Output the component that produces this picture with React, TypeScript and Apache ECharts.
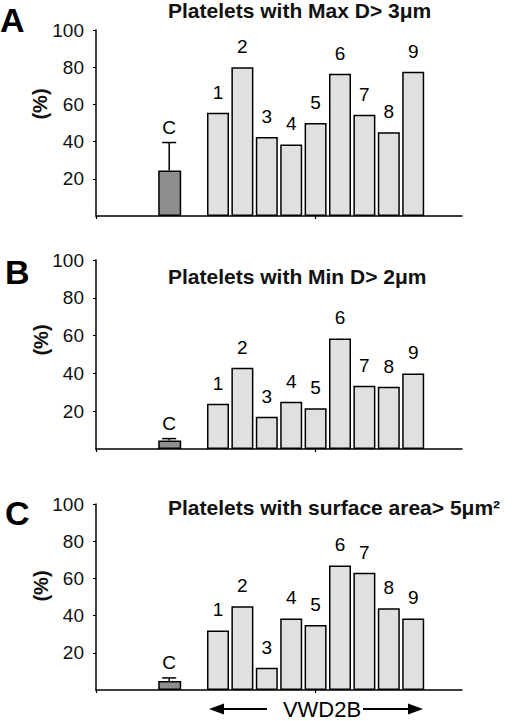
import React, { useEffect, useRef } from "react";
import * as echarts from "echarts";

// Slots along the x axis (category points); only "C" and "1".."9" carry bars
const xSlots = ["s0", "s1", "s2", "C", "s4", "1", "2", "3", "4", "5", "6", "7", "8", "9", "s14", "s15"];
const patients = ["1", "2", "3", "4", "5", "6", "7", "8", "9"];
const controlName = "C";

const titles = [
  "Platelets with Max D> 3\u03bcm",
  "Platelets with Min D> 2\u03bcm",
  "Platelets with surface area> 5\u03bcm\u00b2",
];
const panelLetters = ["A", "B", "C"];

const vwdA = [55.5, 80, 42.5, 38.5, 50, 76.5, 54.5, 45, 77.5];
const vwdB = [24, 43, 17, 25, 21.5, 58.5, 33.5, 33, 40];
const vwdC = [32, 45, 12, 38.5, 35, 67, 63, 44, 38.5];
const controlValues = [24.5, 4.5, 4.8];
const controlErrTop = [39.5, 5.5, 6.5];
const vwdSets = [vwdA, vwdB, vwdC];

const yTicks = [0, 20, 40, 60, 80, 100];
const groupLabel = "VWD2B";
const yName = "(%)";

const FONT = "'Liberation Sans', Arial, sans-serif";

// layout (pixels)
const grids = [
  { left: 96, top: 30, width: 366, height: 186 },
  { left: 96, top: 260, width: 366, height: 189 },
  { left: 96, top: 504, width: 366, height: 186 },
];
const titleTops = [0, 266, 497];
const letterPos = [
  { x: 0, y: 3 },
  { x: 5, y: 255 },
  { x: 5, y: 496 },
];
const yNamePos = [
  { x: 40, y: 104 },
  { x: 41, y: 340 },
  { x: 41, y: 586 },
];

export default function App() {
  const ref = useRef<HTMLDivElement>(null);

  useEffect(() => {
    if (!ref.current) return;
    const chart = echarts.init(ref.current, null, { renderer: "svg" });

    const xAxis: any[] = [];
    const yAxis: any[] = [];
    const series: any[] = [];

    grids.forEach((g, i) => {
      xAxis.push({
        type: "category",
        gridIndex: i,
        data: xSlots,
        boundaryGap: false,
        axisLine: { lineStyle: { color: "#000", width: 1.5 } },
        axisTick: {
          show: true,
          length: 3,
          interval: (idx: number) => idx === 0 || idx === 9,
          lineStyle: { color: "#000", width: 1.2 },
        },
        axisLabel: { show: false },
        splitLine: { show: false },
      });
      yAxis.push({
        type: "value",
        gridIndex: i,
        min: yTicks[0],
        max: yTicks[yTicks.length - 1],
        interval: 20,
        axisLine: { show: true, lineStyle: { color: "#000", width: 1.5 } },
        axisTick: { show: true, length: 3, lineStyle: { color: "#000", width: 1 } },
        axisLabel: {
          showMinLabel: false,
          margin: 12,
          fontSize: 19,
          fontFamily: FONT,
          color: "#111",
        },
        splitLine: { show: false },
      });

      const vals = vwdSets[i];
      series.push({
        type: "bar",
        xAxisIndex: i,
        yAxisIndex: i,
        barWidth: 23,
        barGap: "-100%",
        data: xSlots.map((s) => (s === controlName ? controlValues[i] : "-")),
        itemStyle: { color: "#8e8e8e", borderColor: "#000", borderWidth: 1.5 },
        z: 2,
      });
      series.push({
        type: "bar",
        xAxisIndex: i,
        yAxisIndex: i,
        barWidth: 22,
        barGap: "-100%",
        data: xSlots.map((s) => {
          const k = patients.indexOf(s);
          return k >= 0 ? vals[k] : "-";
        }),
        itemStyle: { color: "#e0e0e0", borderColor: "#000", borderWidth: 1.5 },
        label: {
          show: true,
          position: "top",
          distance: 11,
          formatter: (p: any) => p.name,
          fontSize: 19,
          fontFamily: FONT,
          color: "#000",
        },
        z: 2,
      });
      series.push({
        type: "custom",
        xAxisIndex: i,
        yAxisIndex: i,
        data: [[xSlots.indexOf(controlName), controlValues[i], controlErrTop[i]]],
        encode: { x: 0, y: [1, 2] },
        z: 3,
        renderItem: (_p: any, api: any) => {
          const x = api.value(0);
          const base = api.coord([x, api.value(1)]);
          const top = api.coord([x, api.value(2)]);
          return {
            type: "group",
            children: [
              {
                type: "line",
                shape: { x1: base[0], y1: base[1], x2: top[0], y2: top[1] },
                style: { stroke: "#000", lineWidth: 1.5 },
              },
              {
                type: "line",
                shape: { x1: top[0] - 7, y1: top[1], x2: top[0] + 7, y2: top[1] },
                style: { stroke: "#000", lineWidth: 1.5 },
              },
              {
                type: "text",
                style: {
                  text: controlName,
                  x: top[0],
                  y: top[1] - 6,
                  align: "center",
                  verticalAlign: "bottom",
                  fontSize: 19,
                  fontFamily: FONT,
                  fill: "#000",
                },
              },
            ],
          };
        },
      });
    });

    const graphic: any[] = [];
    panelLetters.forEach((L, i) => {
      graphic.push({
        type: "text",
        left: letterPos[i].x,
        top: letterPos[i].y,
        style: { text: L, fontSize: 34, fontWeight: "bold", fontFamily: FONT, fill: "#000" },
      });
      graphic.push({
        type: "text",
        x: yNamePos[i].x,
        y: yNamePos[i].y,
        rotation: Math.PI / 2,
        style: {
          text: yName,
          fontSize: 20,
          fontWeight: "bold",
          fontFamily: FONT,
          fill: "#111",
          align: "center",
          verticalAlign: "middle",
        },
      });
    });
    // VWD2B arrow label under panel C
    graphic.push({
      type: "text",
      x: 322,
      y: 709,
      style: {
        text: groupLabel,
        fontSize: 22,
        fontFamily: FONT,
        fill: "#000",
        align: "center",
        verticalAlign: "middle",
      },
    });
    graphic.push({
      type: "line",
      shape: { x1: 222, y1: 709, x2: 267, y2: 709 },
      style: { stroke: "#000", lineWidth: 2 },
    });
    graphic.push({
      type: "polygon",
      shape: { points: [[209, 709], [224, 703.5], [224, 714.5]] },
      style: { fill: "#000" },
    });
    graphic.push({
      type: "line",
      shape: { x1: 363, y1: 709, x2: 409, y2: 709 },
      style: { stroke: "#000", lineWidth: 2 },
    });
    graphic.push({
      type: "polygon",
      shape: { points: [[408, 703.5], [408, 714.5], [423, 709]] },
      style: { fill: "#000" },
    });

    chart.setOption({
      animation: false,
      backgroundColor: "#fff",
      title: titles.map((t, i) => ({
        text: t,
        left: 168,
        top: titleTops[i],
        padding: 0,
        textStyle: { fontSize: 21, fontWeight: "bold", fontFamily: FONT, color: "#111" },
      })),
      grid: grids.map((g) => ({ ...g, containLabel: false })),
      xAxis,
      yAxis,
      series,
      graphic,
    });

    return () => chart.dispose();
  }, []);

  return (
    <div
      ref={ref}
      style={{ position: "absolute", left: 0, top: 0, width: 520, height: 721, background: "#fff" }}
    />
  );
}
